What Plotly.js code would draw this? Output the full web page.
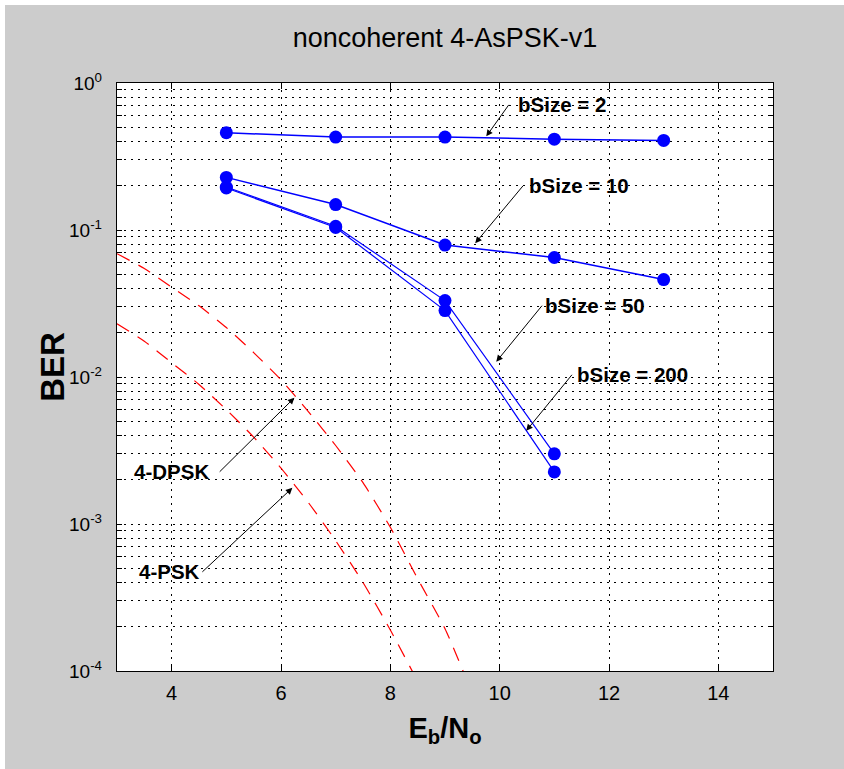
<!DOCTYPE html>
<html><head><meta charset="utf-8">
<script src="https://cdn.plot.ly/plotly-3.0.1.min.js"></script>
<style>html,body{margin:0;padding:0;background:#fff;overflow:hidden;} #chart{position:absolute;left:5px;top:5px;width:839px;height:764px;}</style>
</head><body><div id="chart"></div>
<script>
// Simulated curves (blue, markers)
const ebnoSim = [5, 7, 9, 11, 13];
const berB2 = [0.459, 0.429, 0.429, 0.415, 0.407];
const berB10 = [0.228, 0.149, 0.079, 0.065, 0.046];
const ebnoSimShort = [5, 7, 9, 11];
const berB50 = [0.196, 0.106, 0.0331, 0.0030];
const berB200 = [0.193, 0.104, 0.0283, 0.00226];
// Reference curves (red dashed)
const ebnoRef = [3, 3.5, 4, 4.5, 5, 5.5, 6, 6.5, 7, 7.5, 8, 8.5, 9, 9.5];
const berPSK = [0.023, 0.0175, 0.0125, 0.0089, 0.0060, 0.0039, 0.0024, 0.0014, 0.00077, 0.00040, 0.00019, 0.000085, null, null];
const berDPSK = [0.069, 0.0547, 0.0408, 0.0305, 0.0217, 0.01466, 0.00957, 0.00582, 0.00342, 0.00191, 0.00095, 0.000424, 0.000194, 0.00007];
// Labels
const seriesNames = ['bSize = 2', 'bSize = 10', 'bSize = 50', 'bSize = 200', '4-PSK', '4-DPSK'];
const xTicks = [4, 6, 8, 10, 12, 14];
const yDecades = [-4, -3, -2, -1, 0];
const titleText = 'noncoherent 4-AsPSK-v1';
const xTitle = 'E<sub>b</sub>/N<sub>o</sub>';
const yTitle = 'BER';

const SANS = "'Liberation Sans', Arial, sans-serif";

const yTickVals = yDecades.map(d => Math.pow(10, d));
const yTickText = yDecades.map(d => '10<sup>' + d + '</sup>');

const blueLine = {color: '#0000ff', width: 1.5};
const blueMarker = {color: '#0000ff', size: 13, symbol: 'circle'};
const redLine = {color: '#ff0000', width: 1.2, dash: '14px,10px', shape: 'spline', smoothing: 0.6};

const traces = [
  {x: ebnoRef, y: berPSK, mode: 'lines', line: redLine, name: seriesNames[4]},
  {x: ebnoRef, y: berDPSK, mode: 'lines', line: redLine, name: seriesNames[5]},
  {x: ebnoSim, y: berB2, mode: 'lines+markers', line: blueLine, marker: blueMarker, name: seriesNames[0]},
  {x: ebnoSim, y: berB10, mode: 'lines+markers', line: blueLine, marker: blueMarker, name: seriesNames[1]},
  {x: ebnoSimShort, y: berB50, mode: 'lines+markers', line: {color: '#0000ff', width: 1.2}, marker: blueMarker, name: seriesNames[2]},
  {x: ebnoSimShort, y: berB200, mode: 'lines+markers', line: {color: '#0000ff', width: 1.2}, marker: blueMarker, name: seriesNames[3]}
];

const txtFont = {family: SANS, size: 20.5, color: '#000', weight: 'bold'};
// head in data coords (x, log10 y); tail offset in px; text sits beside the tail
function textArrow(x, y, ax, ay, text, anchor, pad) {
  return {x: x, y: y, xref: 'x', yref: 'y', ax: ax, ay: ay, text: text, showarrow: true,
          xanchor: anchor, yanchor: 'middle', borderpad: pad, borderwidth: 0,
          arrowhead: 2, arrowsize: 1.3, arrowwidth: 1, arrowcolor: '#000', font: txtFont};
}

const annotations = [
  textArrow(9.755, -0.363, 22.5, -31.5, seriesNames[0], 'left', 9),
  textArrow(9.553, -1.090, 47.8, -57.4, seriesNames[1], 'left', 6),
  textArrow(9.938, -1.896, 45.7, -56.0, seriesNames[2], 'left', 3),
  textArrow(10.486, -2.366, 45.7, -56.0, seriesNames[3], 'left', 5),
  textArrow(6.245, -2.141, -74.7, 74.0, seriesNames[5], 'right', 11),
  textArrow(6.208, -2.754, -90, 84, seriesNames[4], 'right', 2),
  {x: -0.0983, y: 0.5165, xref: 'paper', yref: 'paper', text: yTitle, textangle: -90, showarrow: false,
   xanchor: 'center', yanchor: 'middle', font: {family: SANS, size: 33, color: '#000', weight: 'bold'}}
];

const gridDash = '1.5px,5.5px';
const layout = {
  width: 839, height: 764,
  paper_bgcolor: '#cccccc', plot_bgcolor: '#ffffff',
  margin: {l: 112, r: 71, t: 78, b: 98, pad: 0},
  showlegend: false,
  title: {text: titleText, x: 0.5, xref: 'paper', xanchor: 'center', y: 0.958, yref: 'container', yanchor: 'middle',
          font: {family: SANS, size: 27, color: '#000'}},
  xaxis: {range: [3, 15], tickvals: xTicks, ticks: 'inside', ticklen: 6, tickcolor: '#000', tickwidth: 1,
          showline: true, linecolor: '#000', linewidth: 1.2, mirror: 'ticks',
          showgrid: true, gridcolor: '#000', gridwidth: 1, griddash: gridDash, zeroline: false,
          tickfont: {family: SANS, size: 20, color: '#000'}, ticklabelstandoff: 4,
          title: {text: xTitle, font: {family: SANS, size: 29, color: '#000', weight: 'bold'}, standoff: 14}},
  yaxis: {type: 'log', range: [-4, 0], tickvals: yTickVals, ticktext: yTickText, ticks: 'inside', ticklen: 5,
          tickcolor: '#000', tickwidth: 1, showline: true, linecolor: '#000', linewidth: 1.2, mirror: 'ticks',
          showgrid: true, gridcolor: '#000', gridwidth: 1, griddash: gridDash, zeroline: false,
          tickfont: {family: SANS, size: 19, color: '#000'}, ticklabelstandoff: 10,
          minor: {dtick: 'D1', ticks: 'inside', ticklen: 5, tickcolor: '#000', tickwidth: 1,
                  showgrid: true, gridcolor: '#000', gridwidth: 1, griddash: gridDash}},
  annotations: annotations
};

Plotly.newPlot('chart', traces, layout, {displayModeBar: false, staticPlot: true});
</script></body></html>
